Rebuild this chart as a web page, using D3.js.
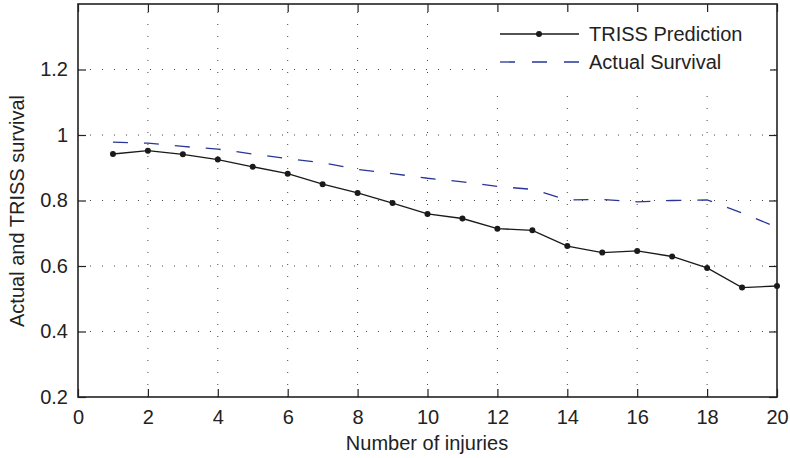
<!DOCTYPE html>
<html>
<head>
<meta charset="utf-8">
<script src="https://cdn.jsdelivr.net/npm/d3@7"></script>
<style>
  body { margin: 0; background: #fff; }
  svg text { font-family: "Liberation Sans", Arial, sans-serif; fill: #222; }
</style>
</head>
<body>
<svg id="chart" width="790" height="458"></svg>
<script>
// number of injuries (x)
const injuries = [1, 2, 3, 4, 5, 6, 7, 8, 9, 10, 11, 12, 13, 14, 15, 16, 17, 18, 19, 20];

// TRISS predicted survival
const trissPrediction = [0.942, 0.952, 0.941, 0.925, 0.903, 0.882, 0.850, 0.823, 0.792, 0.759,
                         0.745, 0.714, 0.709, 0.661, 0.641, 0.646, 0.629, 0.594, 0.534, 0.539];

// actual observed survival
const actualSurvival = [0.978, 0.975, 0.965, 0.957, 0.942, 0.928, 0.915, 0.895, 0.882, 0.868,
                        0.857, 0.843, 0.834, 0.802, 0.803, 0.796, 0.800, 0.802, 0.762, 0.718];

const xTicks = [0, 2, 4, 6, 8, 10, 12, 14, 16, 18, 20];
const yTicks = [0.2, 0.4, 0.6, 0.8, 1, 1.2];

const svg = d3.select('#chart');
const plotL = 78, plotR = 777, plotT = 4, plotB = 397;
const fontSize = 20;

const x = d3.scaleLinear().domain([0, 20]).range([plotL, plotR]);
const y = d3.scaleLinear().domain([0.2, 1.4]).range([plotB, plotT]);

// dotted grid
const grid = svg.append('g').attr('stroke', '#444').attr('stroke-width', 1)
  .attr('stroke-dasharray', '1,11');
grid.selectAll('.vg').data(xTicks.slice(1, -1)).enter().append('line')
  .attr('x1', d => x(d)).attr('x2', d => x(d))
  .attr('y1', plotB).attr('y2', plotT);
grid.selectAll('.hg').data(yTicks.slice(1)).enter().append('line')
  .attr('x1', plotL).attr('x2', plotR)
  .attr('y1', d => y(d)).attr('y2', d => y(d));

// axes (ticks inward, mirrored on top/right)
const tickLen = 8;
const xAxis = svg.append('g').attr('transform', `translate(0,${plotB})`)
  .call(d3.axisBottom(x).tickValues(xTicks).tickSize(-tickLen).tickPadding(13).tickFormat(d3.format('d')));
const yAxis = svg.append('g').attr('transform', `translate(${plotL},0)`)
  .call(d3.axisLeft(y).tickValues(yTicks).tickSize(-tickLen).tickPadding(10).tickFormat(d => d === 1 ? '1' : d3.format('.1f')(d)));
const xTop = svg.append('g').attr('transform', `translate(0,${plotT})`)
  .call(d3.axisTop(x).tickValues(xTicks).tickSize(-tickLen).tickFormat(''));
const yRight = svg.append('g').attr('transform', `translate(${plotR},0)`)
  .call(d3.axisRight(y).tickValues(yTicks).tickSize(-tickLen).tickFormat(''));

[xAxis, yAxis, xTop, yRight].forEach(g => {
  g.select('.domain').remove();
  g.selectAll('.tick line').attr('stroke', '#222').attr('stroke-width', 1.2);
  g.selectAll('.tick text').attr('font-size', fontSize).attr('fill', '#222')
    .style('font-family', '"Liberation Sans", Arial, sans-serif');
});

// legend background
svg.append('rect').attr('x', 488).attr('y', 12).attr('width', 282).attr('height', 78).attr('fill', '#fff');

// box
svg.append('rect').attr('x', plotL).attr('y', plotT)
  .attr('width', plotR - plotL).attr('height', plotB - plotT)
  .attr('fill', 'none').attr('stroke', '#222').attr('stroke-width', 1.6);

// lines
const triss = injuries.map((d, i) => [d, trissPrediction[i]]);
const actual = injuries.map((d, i) => [d, actualSurvival[i]]);
const line = d3.line().x(d => x(d[0])).y(d => y(d[1]));

svg.append('path').datum(actual).attr('d', line)
  .attr('fill', 'none').attr('stroke', '#2a3596').attr('stroke-width', 1.3)
  .attr('stroke-dasharray', '15,16');

svg.append('path').datum(triss).attr('d', line)
  .attr('fill', 'none').attr('stroke', '#1a1a1a').attr('stroke-width', 1.3);
svg.selectAll('.pt').data(triss).enter().append('circle')
  .attr('cx', d => x(d[0])).attr('cy', d => y(d[1])).attr('r', 3).attr('fill', '#1a1a1a');

// legend
const lg = svg.append('g');
lg.append('line').attr('x1', 500).attr('x2', 579).attr('y1', 34).attr('y2', 34)
  .attr('stroke', '#1a1a1a').attr('stroke-width', 1.3);
lg.append('circle').attr('cx', 539).attr('cy', 34).attr('r', 3).attr('fill', '#1a1a1a');
lg.append('line').attr('x1', 500).attr('x2', 579).attr('y1', 62).attr('y2', 62)
  .attr('stroke', '#2a3596').attr('stroke-width', 1.3).attr('stroke-dasharray', '15,17');
lg.append('text').attr('x', 589).attr('y', 34).attr('dy', '0.35em').attr('font-size', fontSize).text('TRISS Prediction');
lg.append('text').attr('x', 589).attr('y', 62).attr('dy', '0.35em').attr('font-size', fontSize).text('Actual Survival');

// axis titles
svg.append('text').attr('x', 427).attr('y', 443).attr('dy', '0.35em')
  .attr('text-anchor', 'middle').attr('font-size', fontSize).text('Number of injuries');
svg.append('text').attr('transform', `translate(17,211) rotate(-90)`)
  .attr('dy', '0.35em').attr('text-anchor', 'middle').attr('font-size', fontSize).text('Actual and TRISS survival');
</script>
</body>
</html>
